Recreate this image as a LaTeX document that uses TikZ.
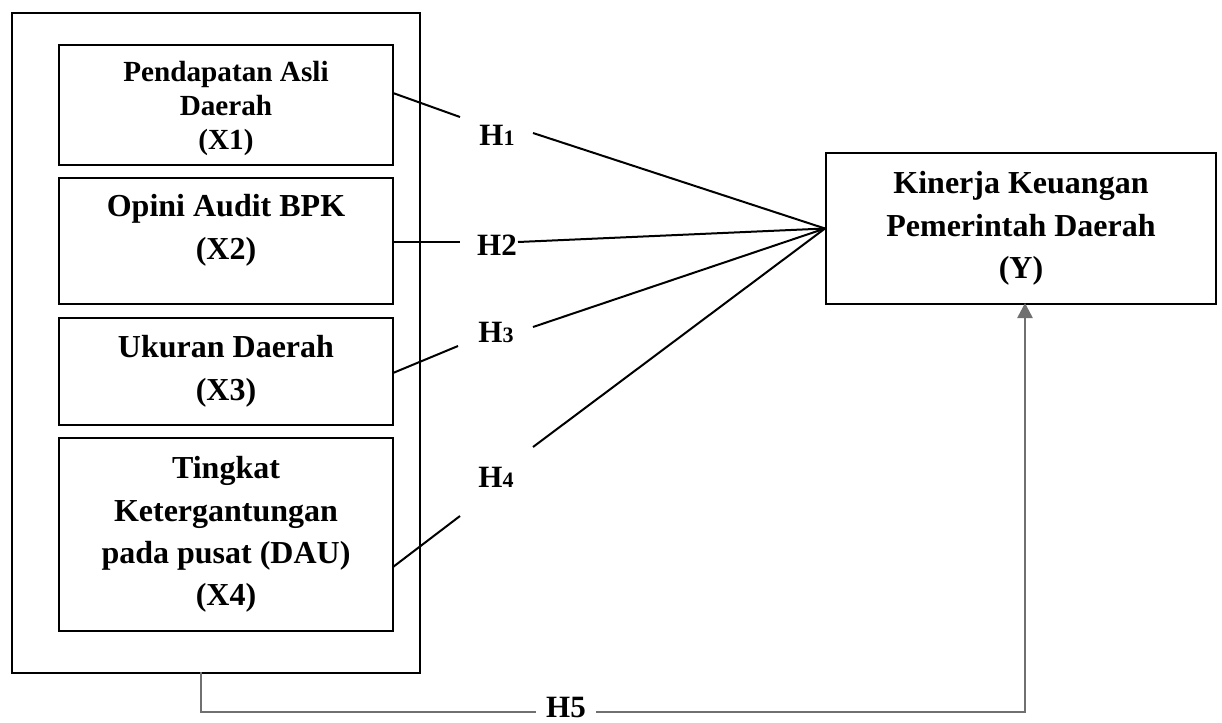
\documentclass[tikz,border=0pt]{standalone}
\usepackage{fontspec}
\setmainfont{Liberation Serif}
\usepackage{xcolor}
\usepackage{tikz}
\usetikzlibrary{arrows.meta, positioning}
\definecolor{h5gray}{RGB}{112,112,112}

\begin{document}
\begin{tikzpicture}[
      x=0.5pt, y=-0.5pt,
      >={Triangle[width=7.5pt,length=7.5pt]},
      lbl/.style={font=\bfseries\fontsize{16}{21.2}\selectfont},
      varbox/.style={draw, line width=1pt, anchor=north west, align=center, inner sep=0pt, lbl},
      hyp/.style={font=\bfseries\fontsize{15.5}{18}\selectfont, inner sep=0pt},
      link/.style={line width=1pt},
      h5line/.style={line width=1.3pt, h5gray}
    ]
    \useasboundingbox (0,0) rectangle (1222,723);

    % Kotak luar variabel X
    \node[draw, line width=1pt, anchor=north west, minimum width=204pt, minimum height=330pt, inner sep=0pt] (grp) at (11,12) {};

    % Variabel independen
    \node[varbox, minimum width=167pt, minimum height=60pt, text depth=0pt, font=\bfseries\fontsize{14.6}{17}\selectfont] (x1) at (58,44) {Pendapatan Asli\\Daerah\\(X1)};
    \node[varbox, minimum width=167pt, minimum height=63pt, text depth=14pt] (x2) at (58,177) {Opini Audit BPK\\(X2)};
    \node[varbox, minimum width=167pt, minimum height=53.5pt] (x3) at (58,317) {Ukuran Daerah\\(X3)};
    \node[varbox, minimum width=167pt, minimum height=96.5pt] (x4) at (58,437) {Tingkat\\Ketergantungan\\pada pusat (DAU)\\(X4)};

    % Variabel dependen
    \node[varbox, minimum width=195pt, minimum height=75.5pt] (y) at (825,152) {Kinerja Keuangan\\Pemerintah Daerah\\(Y)};

    % Hipotesis
    \node[hyp] (h1) at (497,135) {H{\fontsize{11}{12}\selectfont 1}};
    \node[hyp] (h2) at (497,245) {H2};
    \node[hyp] (h3) at (496,332) {H{\fontsize{11}{12}\selectfont 3}};
    \node[hyp] (h4) at (496,477) {H{\fontsize{11}{12}\selectfont 4}};
    \node[hyp, inner sep=5pt] (h5) at (566,707) {H5};

    % Ujung garis
    \coordinate (s1) at (393,93);  \coordinate (e1) at (460,117); \coordinate (b1) at (533,133);
    \coordinate (s2) at (393,242); \coordinate (e2) at (460,242); \coordinate (b2) at (518,242);
    \coordinate (s3) at (393,373); \coordinate (e3) at (458,346); \coordinate (b3) at (533,327);
    \coordinate (s4) at (393,567); \coordinate (e4) at (460,516); \coordinate (b4) at (533,447);
    \coordinate (p5) at (201,672);
    \coordinate (m5) at (0,712);
    \coordinate (q5) at (1025,303);

    \foreach \i in {1,...,4} {
      \draw[link] (s\i) -- (e\i);
      \draw[link] (b\i) -- (y.west);
    }

    % Garis H5
    \draw[h5line] (p5) |- (h5.west |- m5);
    \draw[h5line, ->] (h5.east |- m5) -| (q5);
  \end{tikzpicture}
\end{document}
